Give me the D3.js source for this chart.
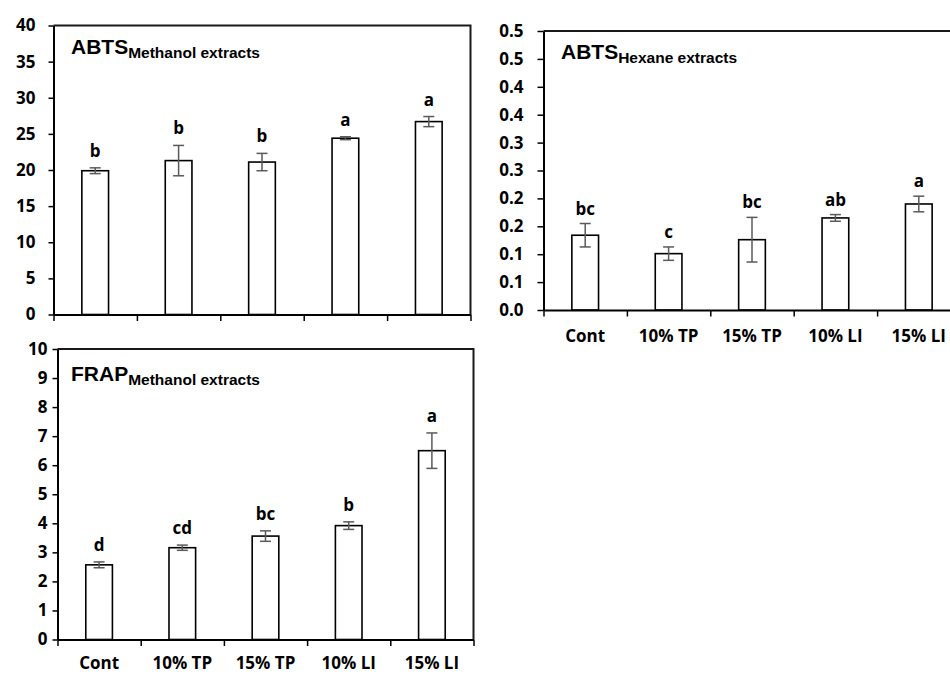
<!DOCTYPE html>
<html>
<head>
<meta charset="utf-8">
<script src="https://cdn.jsdelivr.net/npm/d3@7"></script>
<style>
  body { margin: 0; background: #fff; }
  svg { display: block; }
</style>
</head>
<body>
<svg id="chart"></svg>
<script>
// data
const categories = ['Cont', '10% TP', '15% TP', '10% LI', '15% LI'];

const abtsMethanol = [19.9, 21.3, 21.1, 24.4, 26.7];
const abtsMethanolErr = [0.4, 2.1, 1.2, 0.2, 0.7];
const abtsMethanolLetters = ['b', 'b', 'b', 'a', 'a'];
const abtsMethanolTicks = [0, 5, 10, 15, 20, 25, 30, 35, 40];
const abtsMethanolTickLabels = ['0', '5', '10', '15', '20', '25', '30', '35', '40'];

const abtsHexane = [0.134, 0.101, 0.126, 0.165, 0.19];
const abtsHexaneErr = [0.021, 0.012, 0.04, 0.006, 0.014];
const abtsHexaneLetters = ['bc', 'c', 'bc', 'ab', 'a'];
const abtsHexaneTicks = [0, 0.05, 0.1, 0.15, 0.2, 0.25, 0.3, 0.35, 0.4, 0.45, 0.5];
const abtsHexaneTickLabels = ['0.0', '0.1', '0.1', '0.2', '0.2', '0.3', '0.3', '0.4', '0.4', '0.5', '0.5'];

const frapMethanol = [2.57, 3.16, 3.56, 3.92, 6.5];
const frapMethanolErr = [0.1, 0.09, 0.18, 0.13, 0.61];
const frapMethanolLetters = ['d', 'cd', 'bc', 'b', 'a'];
const frapMethanolTicks = [0, 1, 2, 3, 4, 5, 6, 7, 8, 9, 10];
const frapMethanolTickLabels = ['0', '1', '2', '3', '4', '5', '6', '7', '8', '9', '10'];

// layout of the three panels (pixels)
const panels = [
  {
    title: 'ABTS', sub: 'Methanol extracts',
    values: abtsMethanol, err: abtsMethanolErr, letters: abtsMethanolLetters,
    ticks: abtsMethanolTicks, tickLabels: abtsMethanolTickLabels, max: 40,
    left: 53.5, right: 470.5, top: 25.5, bottom: 314.5,
    tickPad: 13, yTick: 5, letterGap: 11, showCats: false,
    titleX: 71, titleY: 54,
  },
  {
    title: 'ABTS', sub: 'Hexane extracts',
    values: abtsHexane, err: abtsHexaneErr, letters: abtsHexaneLetters,
    ticks: abtsHexaneTicks, tickLabels: abtsHexaneTickLabels, max: 0.5,
    left: 543.5, right: 960.5, top: 31, bottom: 310,
    tickPad: 14, yTick: 6, letterGap: 9, showCats: true, catDy: 32,
    titleX: 561, titleY: 59,
  },
  {
    title: 'FRAP', sub: 'Methanol extracts',
    values: frapMethanol, err: frapMethanolErr, letters: frapMethanolLetters,
    ticks: frapMethanolTicks, tickLabels: frapMethanolTickLabels, max: 10,
    left: 57.5, right: 473.5, top: 349, bottom: 639.5,
    tickPad: 5, yTick: 5, letterGap: 11, showCats: true, catDy: 29.5,
    titleX: 71, titleY: 381,
  },
];

const W = 950, H = 675;
const numFont = "'Open Sans', sans-serif";
const titleFont = "'Liberation Sans', Arial, sans-serif";
const numSize = 17;

const svg = d3.select('#chart').attr('width', W).attr('height', H);

panels.forEach(p => {
  const g = svg.append('g');

  const x = d3.scaleBand().domain(categories).range([p.left, p.right]).padding(0);
  const xEdge = d3.scaleLinear().domain([0, categories.length]).range([p.left, p.right]);
  const y = d3.scaleLinear().domain([0, p.max]).range([p.bottom, p.top]);
  const barW = x.bandwidth() * 0.32;
  const cx = (d, i) => x(categories[i]) + x.bandwidth() / 2;

  // frame top + right
  g.append('path')
    .attr('d', `M${p.left},${p.top}H${p.right}V${p.bottom}`)
    .attr('fill', 'none')
    .attr('stroke', '#1a1a1a')
    .attr('stroke-width', 2);

  // bars
  g.selectAll('.bar')
    .data(p.values)
    .enter()
    .append('rect')
    .attr('class', 'bar')
    .attr('x', (d, i) => cx(d, i) - barW / 2)
    .attr('y', d => y(d))
    .attr('width', barW)
    .attr('height', d => y(0) - y(d))
    .attr('fill', '#fff')
    .attr('stroke', '#000')
    .attr('stroke-width', 1.6);

  // error bars
  const eb = g.selectAll('.err')
    .data(p.values)
    .enter()
    .append('g')
    .attr('class', 'err')
    .attr('stroke', '#5a5a5a')
    .attr('stroke-width', 1.5);
  eb.append('line')
    .attr('x1', cx).attr('x2', cx)
    .attr('y1', (d, i) => y(d + p.err[i]))
    .attr('y2', (d, i) => y(d - p.err[i]));
  eb.append('line')
    .attr('x1', (d, i) => cx(d, i) - 5.5).attr('x2', (d, i) => cx(d, i) + 5.5)
    .attr('y1', (d, i) => y(d + p.err[i])).attr('y2', (d, i) => y(d + p.err[i]));
  eb.append('line')
    .attr('x1', (d, i) => cx(d, i) - 5.5).attr('x2', (d, i) => cx(d, i) + 5.5)
    .attr('y1', (d, i) => y(d - p.err[i])).attr('y2', (d, i) => y(d - p.err[i]));

  // significance letters
  g.selectAll('.letter')
    .data(p.values)
    .enter()
    .append('text')
    .attr('class', 'letter')
    .attr('x', cx)
    .attr('y', (d, i) => y(d + p.err[i]) - p.letterGap)
    .attr('text-anchor', 'middle')
    .attr('font-family', numFont)
    .attr('font-weight', 700)
    .attr('font-size', numSize)
    .attr('fill', '#000')
    .text((d, i) => p.letters[i]);

  // y axis
  const yAxis = g.append('g')
    .attr('transform', `translate(${p.left},0)`)
    .call(d3.axisLeft(y)
      .tickValues(p.ticks)
      .tickFormat((d, i) => p.tickLabels[i])
      .tickSize(p.yTick)
      .tickSizeOuter(0)
      .tickPadding(p.tickPad));
  yAxis.select('.domain').attr('stroke', '#000').attr('stroke-width', 2);
  yAxis.selectAll('.tick line').attr('stroke', '#000').attr('stroke-width', 1.5);
  yAxis.selectAll('.tick text')
    .attr('font-family', numFont)
    .attr('font-weight', 700)
    .attr('font-size', numSize)
    .attr('fill', '#000');

  // x axis, ticks sit on the category borders
  const xAxis = g.append('g')
    .attr('transform', `translate(0,${p.bottom})`)
    .call(d3.axisBottom(xEdge)
      .ticks(categories.length)
      .tickFormat('')
      .tickSize(6.5)
      .tickSizeOuter(0));
  xAxis.select('.domain').attr('stroke', '#000').attr('stroke-width', 2);
  xAxis.selectAll('.tick line').attr('stroke', '#000').attr('stroke-width', 1.5);

  if (p.showCats) {
    g.selectAll('.cat')
      .data(categories)
      .enter()
      .append('text')
      .attr('class', 'cat')
      .attr('x', d => x(d) + x.bandwidth() / 2)
      .attr('y', p.bottom + p.catDy)
      .attr('text-anchor', 'middle')
      .attr('font-family', numFont)
      .attr('font-weight', 700)
      .attr('font-size', numSize)
      .attr('fill', '#000')
      .text(d => d);
  }

  // panel title with subscript
  const t = g.append('text')
    .attr('x', p.titleX)
    .attr('y', p.titleY)
    .attr('font-family', titleFont)
    .attr('font-weight', 700)
    .attr('fill', '#000');
  t.append('tspan').attr('font-size', 21).text(p.title);
  t.append('tspan').attr('font-size', 15.5).attr('dy', 4).text(p.sub);
});
</script>
</body>
</html>
